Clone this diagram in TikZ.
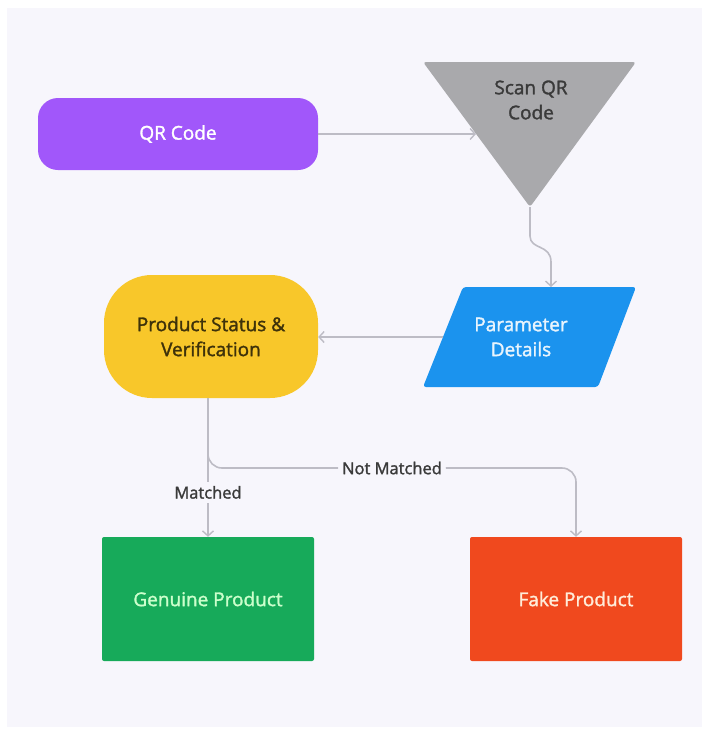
\documentclass[tikz,border=0pt]{standalone}
\usepackage{fontspec}
\setmainfont{Open Sans}[FakeBold=1.6]
\usetikzlibrary{arrows.meta}
\definecolor{panel}{HTML}{F7F6FC}
\definecolor{cpurple}{HTML}{A157FA}
\definecolor{cgray}{HTML}{A9A9AC}
\definecolor{cblue}{HTML}{1B93EE}
\definecolor{cyellow}{HTML}{F8C72A}
\definecolor{cgreen}{HTML}{17AA5A}
\definecolor{corange}{HTML}{F0491E}
\definecolor{cline}{HTML}{BDBCC5}
\definecolor{ctext}{HTML}{3A3A3A}
\tikzset{
  conn/.style={draw=cline, line width=1.6pt, -{Straight Barb[length=5pt,width=11pt,line width=1.4pt]}},
  lbl/.style={fill=panel, text=ctext, font=\fontsize{16.5}{20}\selectfont, inner sep=4pt},
  boxtext/.style={font=\fontsize{19}{25}\selectfont, align=center},
}
\begin{document}
\begin{tikzpicture}[x=1pt,y=-1pt]
\useasboundingbox (0,0) rectangle (702,731);
\fill[panel] (7,8) rectangle (702,727);
% QR Code
\node[boxtext, fill=cpurple, text=white, rounded corners=20pt, minimum width=280pt, minimum height=72pt] (qr) at (178,134) {QR Code};
% Scan QR triangle
\fill[cgray, rounded corners=3pt] (423,62) -- (636,62) -- (530,207) -- cycle;
\coordinate (apex) at (530,207);
\coordinate (scanin) at (476,134);
\node[boxtext, text=ctext] (scan) at (531,100) {Scan QR\\Code};
% Parameter details
\fill[cblue, rounded corners=3pt] (463,287) -- (636,287) -- (598,387) -- (423,387) -- cycle;
\coordinate (partop) at (551,287);
\coordinate (parleft) at (443,337);
\node[boxtext, text=white!90!cblue] (par) at (521,337) {Parameter\\Details};
% Product status
\node[boxtext, fill=cyellow, text=black!75!cyellow, rounded corners=48pt, minimum width=214pt, minimum height=123pt] (psv) at (211,336.5) {Product Status \&\\Verification};
% outputs
\node[boxtext, fill=cgreen, text=green!20!white, rounded corners=2pt, minimum width=212pt, minimum height=124pt] (gen) at (208,599) {Genuine Product};
\node[boxtext, fill=corange, text=orange!15!white, rounded corners=2pt, minimum width=212pt, minimum height=124pt] (fake) at (576,599) {Fake Product};
% connectors
\draw[conn] (qr.east) -- (scanin);
\draw[conn] (apex) -- (530,236) .. controls (530,250) and (551,244) .. (551,262) -- (partop);
\draw[conn] (parleft) -- (psv.east |- parleft);
\draw[conn, rounded corners=14pt] (208,398) -- (208,468) -- node[lbl, pos=0.5]{Not Matched} (576,468) -- (fake.north);
\draw[conn] (208,398) -- node[lbl, pos=0.68]{Matched} (gen.north);
\end{tikzpicture}
\end{document}
